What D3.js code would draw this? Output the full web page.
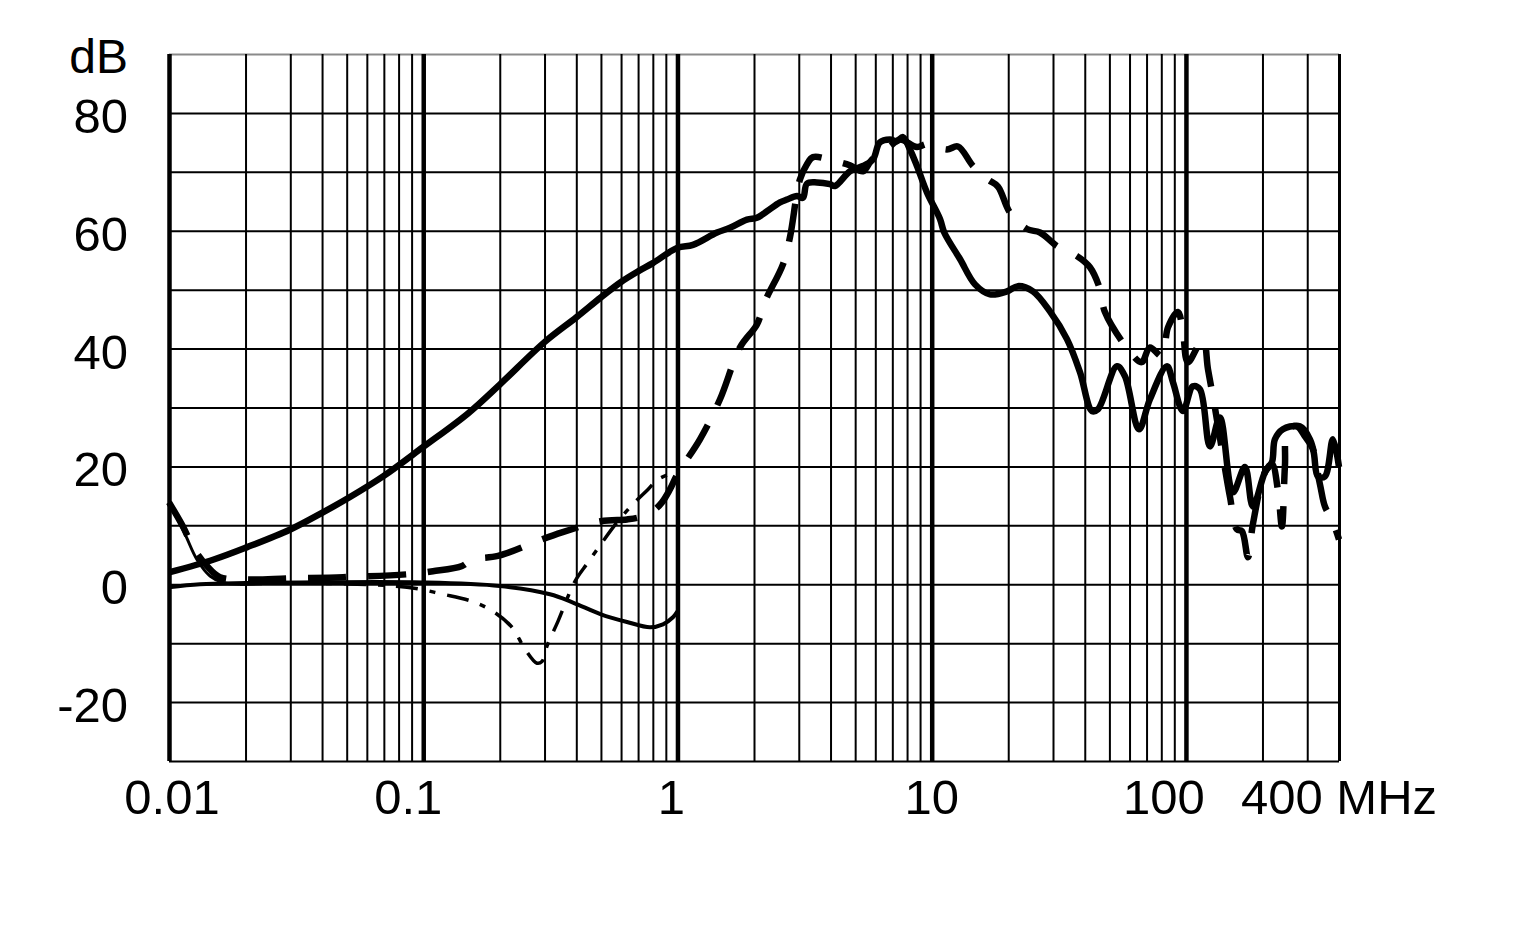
<!DOCTYPE html>
<html>
<head>
<meta charset="utf-8">
<script src="https://cdn.jsdelivr.net/npm/d3@7"></script>
<style>
  html, body { margin: 0; padding: 0; background: #fff; }
  svg { display: block; }
  text { font-family: "Liberation Sans", Arial, sans-serif; fill: #000; }
</style>
</head>
<body>
<svg id="chart" width="1517" height="943"></svg>
<script>
// ---------------- DATA ----------------
// Thick solid curve
const s1Freq = [0.01, 0.015, 0.0203, 0.03, 0.0403, 0.0515, 0.0695, 0.1, 0.15, 0.2, 0.3, 0.4, 0.5, 0.6, 0.7, 0.8, 1.0,
  1.151, 1.43, 1.609, 1.876, 2.054, 2.249, 2.53, 2.696, 2.951, 3.116, 3.231, 3.537, 3.979, 4.163, 4.77, 5.366, 5.875,
  6.25, 6.85, 7.3, 7.706,
  8.213, 8.75, 9.579, 10.78, 11.2, 12.92, 14.8, 16.95, 19.77, 21.84, 25.01, 29.18, 34.04, 38.3, 42.69, 45.07, 53.53, 57.56,
  65.34, 72.18, 84.2, 88.89, 97.32, 106.5, 113.5, 124.3, 136, 153, 170.6, 183.4, 204.5, 217.9, 223.9, 240.7, 273.3,
  293.8, 315.9, 330.5, 352.1, 378.6, 400];
const s1Db = [2.0, 4.2, 6.3, 9.3, 12.2, 14.8, 18.3, 23.3, 29.0, 33.9, 41.1, 45.3, 48.7, 51.3, 53.1, 54.5, 57.1,
  57.6, 59.7, 60.5, 61.9, 62.2, 63.3, 64.8, 65.3, 65.9, 65.6, 68.0, 68.2, 67.9, 67.6, 70.1, 71.0, 72.1,
  75.0, 75.5, 75.2, 75.9,
  73.8, 71.0, 66.5, 62.0, 59.7, 55.2, 50.9, 49.2, 49.7, 50.6, 49.7, 46.3, 41.6, 36.0, 29.4, 29.7, 37.0, 35.3,
  26.3, 31.4, 37.0, 34.3, 29.4, 33.6, 33.1, 23.4, 28.3, 15.6, 19.9, 13.2, 19.0, 20.7, 24.6, 26.3, 26.8,
  25.1, 22.9, 18.3, 18.3, 24.6, 19.9];

// Thick dashed curve
const s2Freq = [0.01, 0.01135, 0.01243, 0.01411, 0.01587, 0.02, 0.03, 0.04835, 0.0871, 0.1092, 0.1421, 0.1555, 0.1968,
  0.2802, 0.3513, 0.5, 0.633, 0.7118, 0.8, 0.869, 0.934, 1.0, 1.226, 1.47, 1.762, 2.054, 2.209, 2.6, 2.77, 3.032,
  3.231, 3.412, 4.163, 4.77, 5.366, 5.821, 6.85, 7.5, 8.75, 9.579, 11.48, 12.69, 14.53, 16.64, 18.22, 20.31, 23.69,
  26.66, 31.1, 37.26, 41.92, 45.89, 48.02, 59.13, 66.9, 72.18, 80.46, 85.0, 93.0, 97.32, 101.8, 116.7, 122.1, 130.0,
  148.9, 158.7, 166.1, 175.3, 183.4, 204.5, 217.9, 230.0, 238.5, 245.1, 251.8, 280.8, 307.4, 336.5, 352.1, 375.2, 400];
const s2Db = [13.9, 9.8, 6.3, 3.1, 1.2, 0.8, 1.0, 1.2, 1.7, 2.2, 3.1, 4.2, 4.8,
  7.3, 8.8, 10.7, 11.0, 11.4, 12.4, 13.9, 16.1, 18.7, 24.6, 31.4, 40.2, 44.1, 48.0, 54.3, 58.9, 68.7,
  71.3, 72.5, 71.8, 71.1, 70.1, 72.1, 74.3, 75.5, 74.2, 74.7, 73.8, 74.3, 71.0, 68.7, 67.5, 63.1, 60.3,
  59.7, 57.4, 55.7, 53.8, 50.1, 46.2, 39.9, 37.7, 40.2, 38.7, 43.6, 46.2, 42.8, 37.7, 41.6, 36.5, 30.0,
  14.9, 9.3, 9.0, 4.6, 10.2, 19.0, 20.4, 16.0, 9.8, 20.0, 26.3, 26.8, 24.6, 17.0, 13.2, 11.0, 7.6];

// Medium solid curve (to 1 MHz)
const s3Freq = [0.01, 0.01324, 0.02, 0.03275, 0.1, 0.2, 0.3151, 0.3881, 0.5, 0.633, 0.7795, 0.877, 0.96, 1.0];
const s3Db = [-0.5, 0.0, 0.2, 0.3, 0.3, -0.3, -1.7, -3.1, -5.1, -6.4, -7.3, -6.8, -5.6, -4.6];

// Thin curve, solid start then dotted (to 1 MHz)
const s4Freq = [0.01, 0.01156, 0.01288, 0.0145, 0.01631, 0.01902, 0.03275, 0.0863, 0.1196, 0.1555, 0.1881, 0.2234,
  0.2513, 0.2802, 0.2931, 0.3067, 0.3388, 0.3953, 0.4446, 0.5093, 0.5781, 0.6683, 0.7656, 0.838, 1.0];
const s4Db = [13.9, 8.5, 4.2, 1.4, 0.3, 0.0, 0.2, -0.5, -1.7, -2.9, -4.6, -7.3,
  -11.0, -13.4, -13.1, -10.5, -6.3, 0.5, 3.7, 7.3, 10.5, 13.6, 16.1, 17.8, 19.2];

// Axes
const yTickValues = [-20, 0, 20, 40, 60, 80];
const yGridValues = [-30, -20, -10, 0, 10, 20, 30, 40, 50, 60, 70, 80, 90];
const xMajorValues = [0.01, 0.1, 1, 10, 100];
const xMinorValues = [];
[0.01, 0.1, 1, 10].forEach(dec => { for (let k = 2; k <= 9; k++) xMinorValues.push(+(k * dec).toPrecision(3)); });
xMinorValues.push(200, 300, 400);
const xLabelValues = [0.01, 0.1, 1, 10, 100, 400];
const xLabelTexts = ["0.01", "0.1", "1", "10", "100", "400 MHz"];
const yUnit = "dB";

// ---------------- DRAW ----------------
(function () {
const svg = d3.select("#chart");
const pL = 169, pR = 1339, pT = 54, pB = 761;
const x = d3.scaleLog().domain([0.01, 400]).range([pL, pR]);
const y = d3.scaleLinear().domain([-30, 90]).range([pB, pT]);

// horizontal grid
const gy = svg.append("g").attr("transform", `translate(${pL},0)`)
  .call(d3.axisLeft(y).tickValues(yGridValues).tickSize(-(pR - pL)).tickFormat(""));
gy.select(".domain").remove();
gy.selectAll(".tick line").attr("stroke", d => d === 90 ? "#8a8a8a" : "#000").attr("stroke-width", 2);

// vertical minor grid
const gxm = svg.append("g").attr("transform", `translate(0,${pB})`)
  .call(d3.axisBottom(x).tickValues(xMinorValues).tickSize(-(pB - pT)).tickFormat(""));
gxm.select(".domain").remove();
gxm.selectAll(".tick line").attr("stroke", "#000").attr("stroke-width", d => d === 400 ? 3 : 2);

// vertical major grid
const gxM = svg.append("g").attr("transform", `translate(0,${pB})`)
  .call(d3.axisBottom(x).tickValues(xMajorValues).tickSize(-(pB - pT)).tickFormat(""));
gxM.select(".domain").remove();
gxM.selectAll(".tick line").attr("stroke", "#000").attr("stroke-width", 4.5);

// lines
const line = d3.line().x(d => x(d[0])).y(d => y(d[1])).curve(d3.curveCatmullRom.alpha(0.5));
const zip = (a, b) => a.map((v, i) => [v, b[i]]);

const d1 = zip(s1Freq, s1Db), d2 = zip(s2Freq, s2Db), d3s = zip(s3Freq, s3Db), d4 = zip(s4Freq, s4Db);
const plot = svg.append("g").attr("fill", "none").attr("stroke", "#000")
  .attr("stroke-linejoin", "round");

plot.append("path").attr("d", line(d3s)).attr("stroke-width", 4);
plot.append("path").attr("d", line(d4.filter(d => d[0] <= 0.02))).attr("stroke-width", 3);
plot.append("path").attr("d", line(d4.filter(d => d[0] >= 0.019))).attr("stroke-width", 3.5)
  .attr("stroke-dasharray", "22,12,6,12");
plot.append("path").attr("d", line(d2)).attr("stroke-width", 6.5).attr("stroke-dasharray", "38,22");
plot.append("path").attr("d", line(d1)).attr("stroke-width", 6.5);

// y labels
svg.append("g").selectAll("text").data(yTickValues).join("text")
  .attr("x", 128).attr("y", d => y(d) + 20)
  .attr("text-anchor", "end").attr("font-size", 49).text(d => d);
svg.append("text").attr("x", 128).attr("y", 73).attr("text-anchor", "end")
  .attr("font-size", 48).text(yUnit);

// x labels
const xOffsets = [3, -15, -6, 0, -22, 0];
svg.append("g").selectAll("text").data(xLabelValues).join("text")
  .attr("x", (d, i) => x(d) + xOffsets[i]).attr("y", 814)
  .attr("text-anchor", "middle").attr("font-size", 49).text((d, i) => xLabelTexts[i]);
})();
</script>
</body>
</html>
